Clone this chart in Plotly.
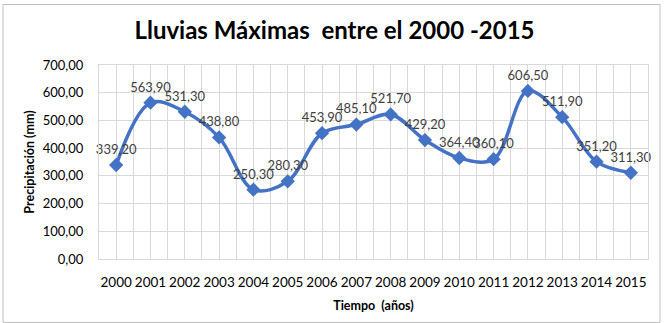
import plotly.graph_objects as go

years = list(range(2000, 2016))
rain_mm = [339.20, 563.90, 531.30, 438.80, 250.30, 280.30, 453.90, 485.10,
           521.70, 429.20, 364.40, 360.10, 606.50, 511.90, 351.20, 311.30]
y_ticks = [0, 100, 200, 300, 400, 500, 600, 700]

W, H = 669, 323
L, R, T, B = 99, W - 648, 65, H - 267
pw, ph = W - L - R, H - T - B

fig = go.Figure()
fig.add_trace(go.Scatter(
    x=years, y=rain_mm, mode="lines+markers+text",
    line=dict(color="#4472C4", width=3.5, shape="spline", smoothing=1),
    marker=dict(symbol="diamond", size=11, color="#4472C4"),
    texttemplate="%{y:.2f}", textposition="top center",
    textfont=dict(family="Lato", size=13, color="#404040"),
    cliponaxis=False, hoverinfo="skip",
))

fig.update_layout(
    width=W, height=H, margin=dict(l=L, r=R, t=T, b=B),
    paper_bgcolor="white", plot_bgcolor="white",
    separators=",.",
    showlegend=False,
    title=dict(text="<b>Lluvias Máximas  entre el 2000 -2015</b>",
               x=0.5, xanchor="center", y=1 - 31 / H, yanchor="middle",
               font=dict(family="Lato", size=24, color="#000000")),
    xaxis=dict(range=[1999.5, 2015.5], tickmode="array", tickvals=years,
               ticktext=[str(y) for y in years],
               showgrid=True, gridcolor="#D9D9D9", gridwidth=1,
               minor=dict(dtick=0.5, tick0=1999.5, showgrid=True,
                          gridcolor="#D9D9D9", gridwidth=1),
               showline=True, linecolor="#D9D9D9", linewidth=1, mirror=True,
               zeroline=False, ticks="", ticklabelstandoff=11,
               tickfont=dict(family="Lato", size=13.5, color="#000000"),
               title=dict(text="<b>Tiempo  (años)</b>", standoff=12,
                          font=dict(family="Lato", size=12.5, color="#000000"))),
    yaxis=dict(range=[0, 700], tickmode="array", tickvals=y_ticks,
               tickformat=".2f",
               showgrid=True, gridcolor="#D9D9D9", gridwidth=1,
               showline=True, linecolor="#D9D9D9", linewidth=1, mirror=True,
               zeroline=False, ticks="", ticklabelstandoff=12,
               tickfont=dict(family="Lato", size=13, color="#000000"),
               title=dict(text="<b>Precipitación (mm)</b>", standoff=5,
                          font=dict(family="Lato", size=12.5, color="#000000"))),
)

# outer chart border
fig.add_shape(type="rect", xref="paper", yref="paper",
              x0=(3 - L) / pw, x1=(660 - L) / pw,
              y0=-(B + 10) / ph,
              y1=((H - B) - 2) / ph,
              line=dict(color="#BFBFBF", width=1), fillcolor="rgba(0,0,0,0)",
              layer="below")

fig.write_html("out.html")
